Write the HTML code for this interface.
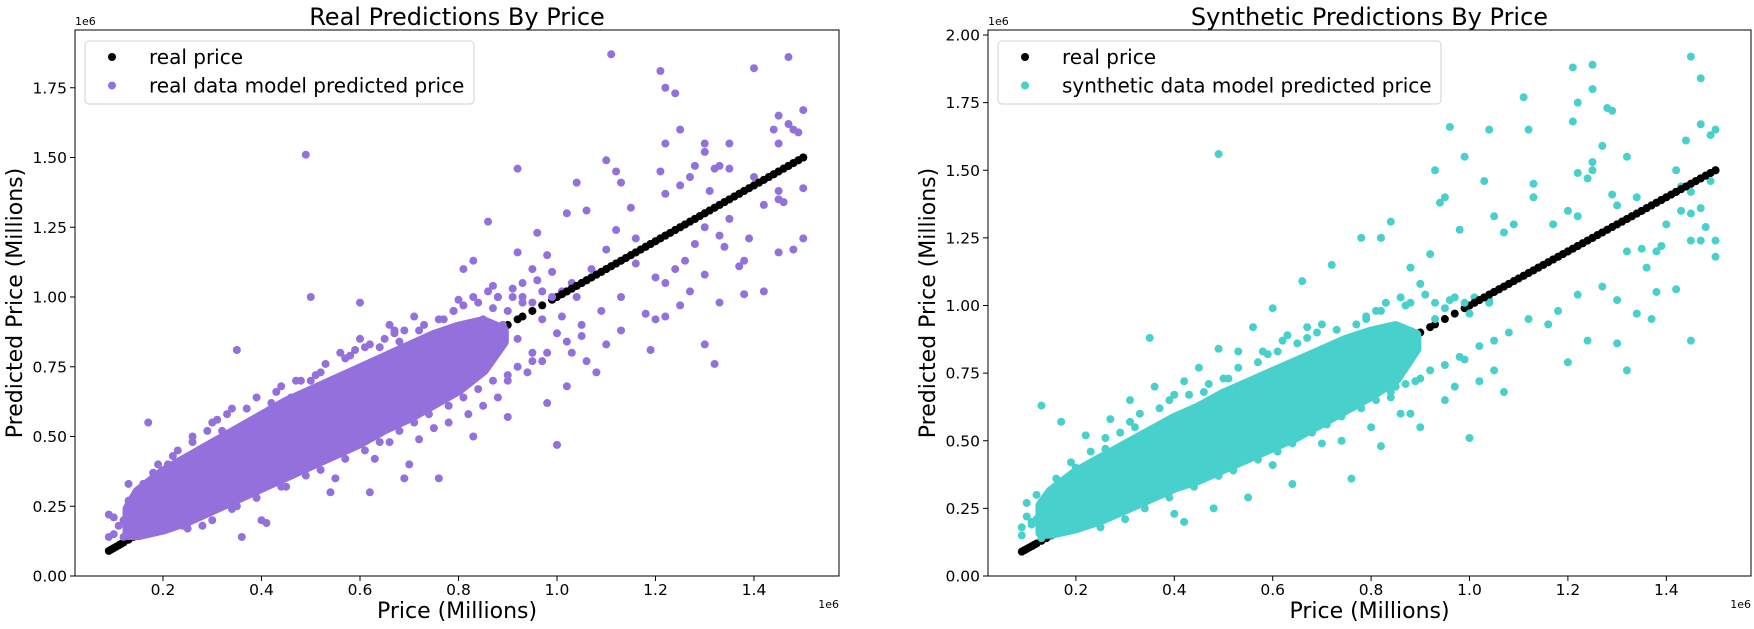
<!DOCTYPE html>
<html><head><meta charset="utf-8">
<style>
html,body{margin:0;padding:0;background:#fff;}
svg{display:block;font-family:"DejaVu Sans","Liberation Sans",sans-serif;}
</style></head>
<body>
<svg id="chart" width="1754" height="629" viewBox="0 0 1754 629" xmlns="http://www.w3.org/2000/svg"></svg>
<script>
// ---------- DATA (values in millions) ----------
const realPriceX = [0.09,0.095,0.1,0.105,0.11,0.115,0.12,0.13,0.14,0.15,0.16,0.82,0.84,0.86,0.88,0.9,0.92,0.93,0.95,0.97,0.99,1.0,1.01,1.02,1.03,1.04,1.05,1.06,1.07,1.08,1.09,1.1,1.11,1.12,1.13,1.14,1.15,1.16,1.17,1.18,1.19,1.2,1.21,1.22,1.23,1.24,1.25,1.26,1.27,1.28,1.29,1.3,1.31,1.32,1.33,1.34,1.35,1.36,1.37,1.38,1.39,1.4,1.41,1.42,1.43,1.44,1.45,1.46,1.47,1.48,1.49,1.5];

// dense core envelope (x, lower, upper)
const coreX     = [0.13,0.15,0.2,0.25,0.3,0.35,0.4,0.45,0.5,0.55,0.6,0.65,0.7,0.75,0.8,0.85,0.89];
const realCoreLo= [0.15,0.15,0.17,0.2,0.24,0.28,0.32,0.36,0.4,0.44,0.48,0.53,0.57,0.62,0.67,0.74,0.84];
const realCoreHi= [0.24,0.3,0.37,0.42,0.47,0.52,0.57,0.62,0.66,0.7,0.74,0.78,0.82,0.86,0.89,0.91,0.88];
const synCoreLo = [0.16,0.16,0.18,0.21,0.25,0.29,0.33,0.36,0.4,0.44,0.48,0.52,0.57,0.62,0.67,0.73,0.84];
const synCoreHi = [0.26,0.31,0.38,0.43,0.48,0.53,0.58,0.62,0.67,0.71,0.75,0.79,0.83,0.87,0.9,0.92,0.89];

const realPredX = [1.11,1.47,1.40,1.21,1.22,1.24,1.50,1.45,1.25,1.47,1.48,1.44,1.49,1.22,1.30,1.35,1.45,0.49,1.30,1.10,1.33,1.32,1.35,0.92,1.28,1.12,1.21,1.40,1.27,1.13,1.04,1.25,1.50,1.31,1.45,1.37,1.22,1.45,1.46,1.42,1.50,1.45,1.48,1.39,1.38,1.37,1.42,1.38,1.33,1.32,1.30,1.19,1.20,1.22,1.25,1.18,1.00,0.98,0.83,0.76,0.35,0.50,0.17,0.60,0.71,0.86,0.92,0.96,1.06,1.02,1.15,1.12,1.16,0.90,0.88,0.97,1.03,1.06,1.10,1.13,1.02,1.08,1.05,1.09,1.13,1.16,1.20,1.24,1.22,1.26,1.28,1.30,1.33,1.35,1.27,1.30,1.34,1.10,1.07,1.03,0.95,0.98,0.93,0.90,0.88,0.83,0.81,0.80,0.85,0.92,0.95,1.00,1.01,0.97,0.94,0.86,0.82,0.78,0.74,0.72,0.68,0.66,0.64,0.60,0.56,0.52,0.48,0.44,0.42,0.38,0.34,0.30,0.26,0.22,0.13,0.13,0.10,0.10,0.09,0.12,0.09,0.20,0.36,0.40,0.41,0.54,0.62,0.69,0.63,0.66,0.72,0.75,0.78,0.82,0.85,0.70,0.55,0.45,0.35,0.28,0.24,0.87,0.89,0.91,0.93,0.96,0.99,0.84,0.87,0.9,0.76,0.79,0.58,0.62,0.67,0.46,0.5,0.32,0.27,0.16,0.18,0.21,0.15,
  0.11,0.12,0.14,0.16,0.19,0.23,0.26,0.29,0.31,0.33,0.37,0.39,0.43,0.47,0.51,0.53,0.57,0.59,0.61,0.65,0.67,0.69,0.73,0.77,0.79,0.81,0.83,0.86,0.88,0.91,0.93,0.95,0.97,0.99,1.01,1.04,0.25,0.3,0.34,0.39,0.44,0.49,0.52,0.57,0.61,0.64,0.68,0.71,0.74,0.78,0.81,0.84,0.87,0.9,0.92,0.95,0.98,1.02,1.05];
const realPredY = [1.87,1.86,1.82,1.81,1.75,1.73,1.67,1.65,1.60,1.62,1.60,1.60,1.59,1.55,1.55,1.55,1.55,1.51,1.52,1.49,1.47,1.46,1.46,1.46,1.47,1.45,1.45,1.43,1.43,1.41,1.41,1.40,1.39,1.38,1.38,1.37,1.37,1.35,1.34,1.33,1.21,1.16,1.17,1.21,1.13,1.11,1.02,1.01,0.98,0.76,0.83,0.81,0.92,0.93,0.97,0.94,0.47,0.62,0.50,0.35,0.81,1.00,0.55,0.98,0.93,1.27,1.16,1.23,1.31,1.30,1.32,1.24,1.21,0.57,0.64,0.77,0.80,0.77,0.83,0.88,0.68,0.73,0.90,0.95,1.00,1.12,1.07,1.10,1.05,1.13,1.19,1.25,1.22,1.28,1.02,1.08,1.18,1.17,1.10,1.05,1.10,1.15,1.05,0.95,1.00,1.13,1.10,0.99,0.92,0.85,0.80,0.87,0.93,0.92,0.73,0.78,0.72,0.70,0.80,0.88,0.84,0.90,0.82,0.85,0.80,0.73,0.70,0.68,0.62,0.55,0.60,0.55,0.48,0.43,0.33,0.27,0.21,0.15,0.22,0.14,0.14,0.27,0.14,0.20,0.19,0.30,0.30,0.35,0.42,0.48,0.49,0.53,0.55,0.58,0.61,0.40,0.35,0.32,0.25,0.18,0.18,0.96,0.90,1.00,0.98,1.06,1.09,0.98,1.04,0.70,0.92,0.95,0.79,0.83,0.88,0.64,0.70,0.52,0.44,0.33,0.37,0.40,0.17,
  0.18,0.2,0.17,0.28,0.4,0.45,0.5,0.52,0.56,0.58,0.6,0.64,0.66,0.7,0.72,0.76,0.78,0.81,0.82,0.85,0.87,0.88,0.9,0.92,0.95,0.97,1.0,1.02,1.0,1.03,1.0,0.98,1.02,1.0,1.02,1.0,0.17,0.2,0.24,0.28,0.32,0.36,0.38,0.42,0.45,0.48,0.52,0.55,0.58,0.61,0.64,0.67,0.7,0.72,0.75,0.77,0.8,0.84,0.86];

const synPredX = [1.45,1.47,1.21,1.25,1.22,1.25,1.11,1.28,1.29,1.21,0.96,1.04,1.12,1.47,1.50,1.49,1.44,1.27,0.49,1.32,0.99,1.25,1.25,1.22,1.24,0.93,1.03,1.13,1.13,1.42,1.49,1.43,1.29,1.30,1.34,0.94,0.95,1.45,1.47,1.45,1.48,1.45,1.47,1.50,1.50,1.42,1.37,1.34,1.45,1.30,1.32,1.24,1.20,1.00,0.82,0.76,0.35,0.17,0.13,0.84,0.78,0.82,0.72,0.66,0.60,0.88,0.92,0.98,1.05,1.07,1.09,1.20,1.22,1.17,1.32,1.35,1.38,1.40,1.43,1.39,1.36,1.38,1.27,1.30,1.22,1.18,1.16,1.12,1.08,1.05,1.07,1.02,0.99,0.97,0.95,0.90,0.88,0.84,0.80,0.77,0.75,0.72,0.70,0.67,0.63,0.56,0.53,0.49,0.45,0.42,0.40,0.36,0.31,0.27,0.22,0.20,0.10,0.10,0.09,0.09,0.12,0.11,0.13,0.42,0.48,0.40,0.55,0.64,0.60,0.70,0.74,0.80,0.86,1.00,1.04,1.10,1.15,0.87,0.9,0.93,0.96,0.85,0.89,0.79,0.82,0.58,0.62,0.46,0.5,0.32,0.26,0.16,0.18,0.14,
  0.11,0.12,0.14,0.16,0.19,0.23,0.26,0.29,0.31,0.33,0.37,0.39,0.43,0.47,0.51,0.53,0.57,0.59,0.61,0.65,0.67,0.69,0.73,0.77,0.79,0.81,0.83,0.86,0.88,0.91,0.93,0.95,0.97,0.99,1.01,1.04,0.25,0.3,0.34,0.39,0.44,0.49,0.52,0.57,0.61,0.64,0.68,0.71,0.74,0.78,0.81,0.84,0.87,0.9,0.92,0.95,0.98,1.02,1.05];
const synPredY = [1.92,1.84,1.88,1.89,1.75,1.80,1.77,1.73,1.72,1.68,1.66,1.65,1.65,1.67,1.65,1.63,1.61,1.59,1.56,1.55,1.55,1.53,1.50,1.49,1.47,1.50,1.46,1.45,1.40,1.50,1.46,1.44,1.41,1.37,1.40,1.38,1.40,1.42,1.36,1.34,1.29,1.24,1.24,1.24,1.18,1.06,0.95,0.97,0.87,0.86,0.76,0.87,0.79,0.51,0.48,0.36,0.88,0.57,0.63,1.31,1.25,1.25,1.15,1.09,0.99,1.14,1.19,1.28,1.33,1.27,1.30,1.35,1.33,1.30,1.20,1.21,1.20,1.30,1.35,1.22,1.14,1.05,1.07,1.02,1.04,0.98,0.93,0.95,0.90,0.76,0.68,0.72,0.80,0.70,0.65,0.55,0.60,0.66,0.70,0.78,0.82,0.85,0.93,0.92,0.89,0.92,0.83,0.84,0.77,0.72,0.67,0.70,0.65,0.58,0.52,0.40,0.27,0.22,0.15,0.18,0.30,0.20,0.14,0.20,0.25,0.23,0.29,0.34,0.41,0.49,0.50,0.55,0.60,0.97,1.02,1.10,1.15,1.00,1.08,0.95,1.02,0.70,0.72,0.95,0.98,0.83,0.87,0.68,0.73,0.55,0.47,0.36,0.33,0.28,
  0.19,0.21,0.18,0.3,0.42,0.46,0.51,0.53,0.57,0.6,0.62,0.65,0.67,0.71,0.73,0.77,0.79,0.82,0.83,0.86,0.88,0.9,0.91,0.93,0.96,0.98,1.01,1.03,1.01,1.04,1.01,0.99,1.03,1.01,1.03,1.01,0.18,0.21,0.25,0.29,0.33,0.37,0.39,0.43,0.46,0.49,0.53,0.56,0.59,0.62,0.65,0.68,0.71,0.73,0.76,0.78,0.81,0.85,0.87];

// ---------- rendering ----------
const svg = document.getElementById('chart');
const NS = 'http://www.w3.org/2000/svg';
function mk(tag, attrs, parent){
  const e = document.createElementNS(NS, tag);
  for (const k in attrs) e.setAttribute(k, attrs[k]);
  (parent||svg).appendChild(e);
  return e;
}
function txt(s, attrs, parent){ const t = mk('text', attrs, parent); t.textContent = s; return t; }

function drawPanel(cfg){
  const g = mk('g', {});
  
  
  const L = cfg.left, R = cfg.right, T = 30, B = 576;
  const xS = v => cfg.x0px + v * cfg.xPerUnit;
  const yS = v => B - v * cfg.yPerUnit;

  realPriceX.forEach(x=>{
    const c = mk('circle', {cx: xS(x), cy: yS(x), r: 4, fill: '#000'}, g);
    
    
  });

  let d = '';
  coreX.forEach((x,i)=>{ d += (i?'L':'M') + xS(x) + ' ' + yS(cfg.coreHi[i]) + ' '; });
  for (let i = coreX.length-1; i>=0; i--) d += 'L' + xS(coreX[i]) + ' ' + yS(cfg.coreLo[i]) + ' ';
  d += 'Z';
  const band = mk('path', {d: d, fill: cfg.color, stroke: cfg.color, 'stroke-width': 12, 'stroke-linejoin':'round'}, g);
  
  

  cfg.px.forEach((x,i)=>{
    const c = mk('circle', {cx: xS(x), cy: yS(cfg.py[i]), r: 4, fill: cfg.color}, g);
    
    
  });
  realPriceX.filter(x => x > 1.0).forEach(x=>{
    const c = mk('circle', {cx: xS(x), cy: yS(x), r: 4, fill: '#000'}, g);
    
    
  });

  const fr = mk('rect', {x: L, y: T, width: R-L, height: B-T, fill: 'none', stroke: '#000', 'stroke-width': 1}, g);
  
  

  ['0.2','0.4','0.6','0.8','1.0','1.2','1.4'].forEach(s=>{
    const px = xS(parseFloat(s));
    mk('line', {x1: px, x2: px, y1: B, y2: B+5, stroke: '#000'}, g);
    const t = txt(s, {x: px, y: 595, 'font-size': 15.5, 'text-anchor': 'middle'}, g);
    
    
  });
  cfg.yTicks.forEach(s=>{
    const py = yS(parseFloat(s));
    mk('line', {x1: L-5, x2: L, y1: py, y2: py, stroke: '#000'}, g);
    const t = txt(s, {x: L-8, y: py+5.5, 'font-size': 15.5, 'text-anchor': 'end'}, g);
    
    
  });
  const e1 = txt('1e6', {x: L, y: 25, 'font-size': 11}, g);
  
  
  const e2 = txt('1e6', {x: R, y: 608, 'font-size': 11, 'text-anchor': 'end'}, g);
  
  

  const ti = txt(cfg.title, {x: (L+R)/2, y: 25, 'font-size': 24, 'text-anchor': 'middle'}, g);
  
  
  const xl = txt('Price (Millions)', {x: (L+R)/2, y: 618, 'font-size': 22, 'text-anchor': 'middle'}, g);
  
  
  const yl = txt('Predicted Price (Millions)', {x: 0, y: 0, 'font-size': 22, 'text-anchor': 'middle', transform: 'translate(' + cfg.ylabX + ',' + ((T+B)/2) + ') rotate(-90)'}, g);
  
  

  const lg = mk('g', {}, g);
  
  
  mk('rect', {x: cfg.legX, y: 41, width: cfg.legW, height: 63, rx: 4, fill: 'rgba(255,255,255,0.85)', stroke: '#d0d0d0'}, lg);
  const entries = [['real price', '#000'], [cfg.legText, cfg.color]];
  entries.forEach((en,i)=>{
    const cy = 57 + i*28.5;
    const m = mk('circle', {cx: cfg.legX + 27, cy: cy, r: 4, fill: en[1]}, lg);
    
    
    const t = txt(en[0], {x: cfg.legX + 64, y: cy + 7, 'font-size': 20}, lg);
    
    
  });
}

drawPanel({name:'real-predictions-panel', left:75, right:839, x0px:64.5, xPerUnit:492.5, yPerUnit:279,
  yTicks:['0.00','0.25','0.50','0.75','1.00','1.25','1.50','1.75'],
  coreLo: realCoreLo, coreHi: realCoreHi, px: realPredX, py: realPredY, color:'#9370db',
  title:'Real Predictions By Price', ylabX: 22, legX: 85, legW: 389, legText:'real data model predicted price'});
drawPanel({name:'synthetic-predictions-panel', left:988, right:1751, x0px:977.5, xPerUnit:492, yPerUnit:270.5,
  yTicks:['0.00','0.25','0.50','0.75','1.00','1.25','1.50','1.75','2.00'],
  coreLo: synCoreLo, coreHi: synCoreHi, px: synPredX, py: synPredY, color:'#48d1cc',
  title:'Synthetic Predictions By Price', ylabX: 935, legX: 998, legW: 443, legText:'synthetic data model predicted price'});
</script>
</body></html>
